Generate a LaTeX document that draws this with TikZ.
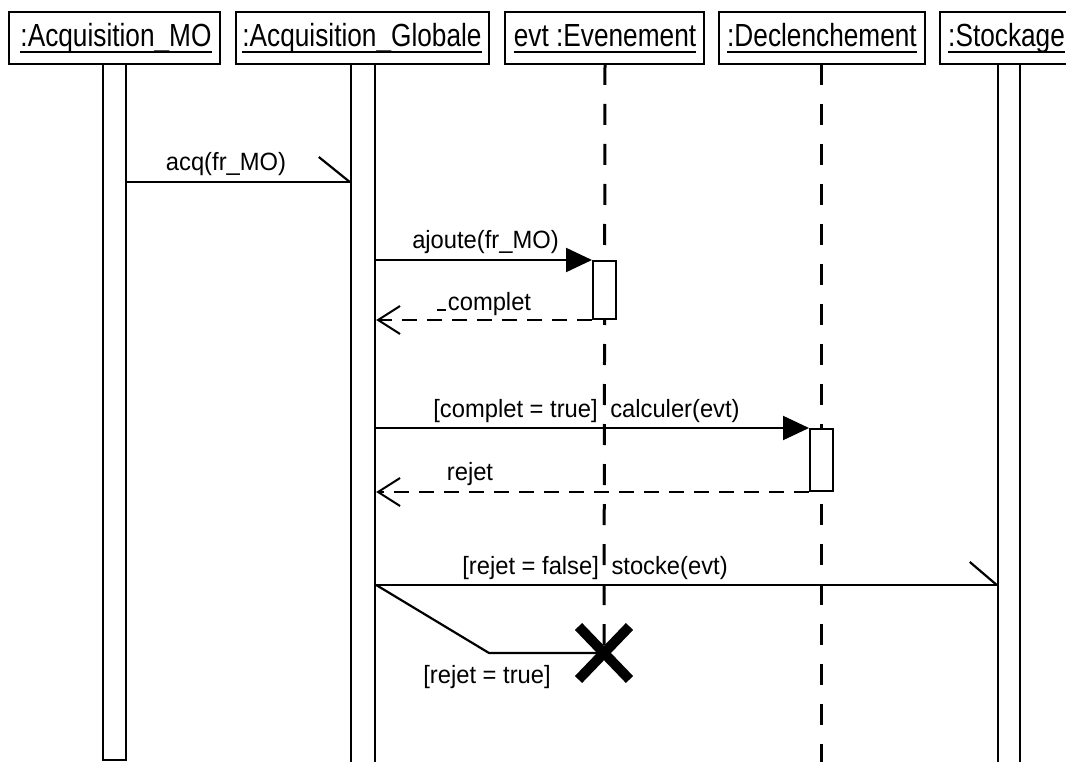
\documentclass[tikz,border=0pt]{standalone}
\usepackage{fontspec}
\setmainfont{Liberation Sans}
\newfontfamily\titlefont[FakeStretch=0.82]{Liberation Sans}
\newfontfamily\labelfont[FakeStretch=0.95]{Liberation Sans}
\usetikzlibrary{arrows.meta,shapes.misc}
\begin{document}
\begin{tikzpicture}[x=1pt,y=-1pt,
  objbox/.style={draw, line width=2.5pt, fill=white, inner sep=0pt},
  ttl/.style={anchor=base, inner sep=0pt, font=\titlefont\fontsize{32}{36}\selectfont},
  uline/.style={line width=1.6pt},
  lbl/.style={anchor=base, inner sep=0pt, font=\labelfont\fontsize{25}{30}\selectfont},
  bar/.style={draw, line width=2.4pt, fill=white, inner sep=0pt},
  lifeline/.style={line width=3pt, dash pattern=on 21pt off 19pt},
  msg/.style={line width=2.2pt},
  ret/.style={line width=2.2pt, dash pattern=on 15pt off 10pt},
  synctip/.style={-{Triangle[length=26pt,width=24pt]}},
  opentip/.style={-{Straight Barb[length=22pt,width=28pt,line width=2pt]}},
  destroy/.style={cross out, draw, line width=10pt, inner sep=0pt, outer sep=0pt, minimum width=51pt, minimum height=53pt}
]
\useasboundingbox (0,0) rectangle (1066,762);
\clip (0,0) rectangle (1066,762);

% named message levels
\coordinate (yacq) at (0,182);
\coordinate (ysto) at (0,585);
\coordinate (bend) at (489,653);

% lifelines (dashed)
\coordinate (llEtop) at (605,64);
\coordinate (llDtop) at (821,64);
\coordinate (llDbot) at (821,762);

% activation bars
\node[bar, minimum width=23pt, minimum height=696pt] (barA) at (114.5,412) {};
\node[bar, minimum width=24pt, minimum height=720pt] (barG) at (363,424) {};
\node[bar, minimum width=22pt, minimum height=720pt] (barS) at (1009,424) {};

% destruction mark
\node[destroy] (X) at (604,653) {};
\draw[lifeline] (llEtop) -- (X.center);
\draw[lifeline] (llDtop) -- (llDbot);

% activation boxes on dashed lifelines
\node[bar, line width=2pt, minimum width=23pt, minimum height=58pt] (actE) at (604.5,290) {};
\node[bar, line width=2pt, minimum width=23pt, minimum height=62pt] (actD) at (821.5,460) {};

% object boxes
\node[objbox, minimum width=211pt, minimum height=52pt] (boxA) at (114.5,38) {};
\node[objbox, minimum width=253pt, minimum height=52pt] (boxG) at (362.5,38) {};
\node[objbox, minimum width=199pt, minimum height=52pt] (boxE) at (604.5,38) {};
\node[objbox, minimum width=206pt, minimum height=52pt] (boxD) at (822,38) {};
\node[objbox, minimum width=150pt, minimum height=52pt] (boxS) at (1015,38) {};

% titles
\node[ttl] (tA) at (116,47) {:Acquisition\_MO};
\node[ttl] (tG) at (362,47) {:Acquisition\_Globale};
\node[ttl] (tE) at (605,47) {evt :Evenement};
\node[ttl] (tD) at (822,47) {:Declenchement};
\node[ttl, anchor=base west] (tS) at (948,47) {:Stockage};
\foreach \t in {tA,tG,tE,tD,tS}{
  \draw[uline] ([yshift=-5pt]\t.base west) -- ([yshift=-5pt]\t.base east);
}

% acq(fr_MO) : asynchronous
\draw[msg] (barA.east |- yacq) coordinate (acqS) -- (barG.west |- yacq) coordinate (acqE);
\draw[msg] (acqE) -- ++(-31,-25);
\node[lbl] (lacq) at (226,171) {acq(fr\_MO)};

% ajoute(fr_MO)
\draw[msg, synctip] (barG.east |- actE.north west) -- (actE.north west);
\node[lbl] (laj) at (485.5,249) {ajoute(fr\_MO)};

% complet (return)
\draw[ret, opentip] (actE.south west) -- (barG.east |- actE.south west);
\coordinate (cm1) at (437,310);
\coordinate (cm2) at (446,310);
\draw[msg] (cm1) -- (cm2);
\node[lbl] (lcomp) at (489.5,310) {complet};

% calculer(evt)
\draw[msg, synctip] (barG.east |- actD.north west) -- (actD.north west);
\node[lbl] (lcalc) at (586.5,417) {[complet = true] \hspace{6pt}calculer(evt)};

% rejet (return)
\draw[ret, opentip] (actD.south west) -- (barG.east |- actD.south west);
\node[lbl] (lrej) at (470,480) {rejet};

% stocke(evt) : asynchronous
\draw[msg] (barG.east |- ysto) coordinate (stoS) -- (barS.west |- ysto) coordinate (stoE);
\draw[msg] (stoE) -- ++(-27,-23);
\node[lbl] (lsto) at (595,574) {[rejet = false] \hspace{6pt}stocke(evt)};

% [rejet = true] : destruction
\draw[msg] (stoS) -- (bend) -- (X.center);
\node[lbl] (ltrue) at (487,683) {[rejet = true]};
\end{tikzpicture}
\end{document}
